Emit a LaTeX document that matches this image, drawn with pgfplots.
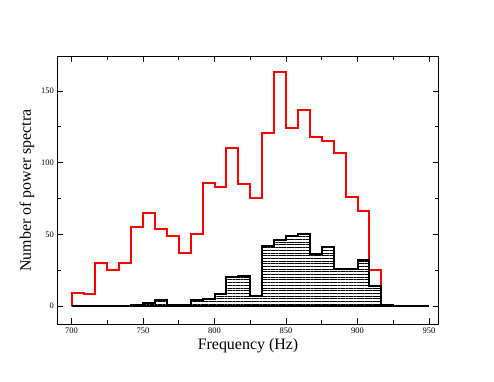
\documentclass[border=0pt]{standalone}
\usepackage{pgfplots}
\pgfplotsset{compat=1.18}
\usetikzlibrary{patterns.meta}
\usepackage{fontspec}
\setmainfont{Liberation Serif}

\begin{document}
\begin{tikzpicture}
  \path[use as bounding box] (-57.3bp,-58bp) rectangle (436.7bp,324bp);
  \begin{axis}[
      at={(0,0)}, anchor=south west,
      scale only axis,
      width=381.4bp, height=267bp,
      xmin=690, xmax=956.8,
      ymin=-12.6, ymax=173.7,
      xtick={700,750,...,950},
      ytick={0,50,100,150},
      minor x tick num=1,
      minor y tick num=1,
      tick align=inside,
      major tick length=5.5bp,
      minor tick length=3.5bp,
      axis line style={line width=1bp},
      every tick/.style={line width=0.8bp, black},
      /pgf/number format/assume math mode=true,
      /pgf/number format/1000 sep={},
      tick label style={font=\fontsize{8.5}{10}\selectfont},
      label style={font=\fontsize{16}{19}\selectfont},
      xlabel={Frequency (Hz)},
      ylabel={Number of power spectra},
      xlabel style={at={(axis description cs:0.5,-0.0824)}, anchor=center},
      ylabel style={at={(axis description cs:-0.0794,0.5)}, anchor=center},
  ]
  % all spectra
  \addplot[const plot mark left, red, line width=2bp]
      coordinates {
          (700, 0)
          (700, 9)
          (708.333, 8)
          (716.667, 30)
          (725, 25)
          (733.333, 30)
          (741.667, 55)
          (750, 65)
          (758.333, 54)
          (766.667, 49)
          (775, 37)
          (783.333, 50)
          (791.667, 86)
          (800, 83)
          (808.333, 110)
          (816.667, 85)
          (825, 75)
          (833.333, 121)
          (841.667, 163)
          (850, 124)
          (858.333, 137)
          (866.667, 118)
          (875, 115)
          (883.333, 107)
          (891.667, 76)
          (900, 66)
          (908.333, 25)
          (916.667, 0)
          (950, 0)
      };

  % selected spectra (hatched)
  \addplot[const plot mark left, black, line width=2bp,
      pattern={Lines[angle=0, distance=2.7pt, line width=0.7pt]}]
      coordinates {
          (700, 0)
          (741.667, 1)
          (750, 2)
          (758.333, 4)
          (766.667, 1)
          (775, 1)
          (783.333, 4)
          (791.667, 5)
          (800, 8)
          (808.333, 20)
          (816.667, 21)
          (825, 7)
          (833.333, 42)
          (841.667, 46)
          (850, 49)
          (858.333, 50)
          (866.667, 36)
          (875, 41)
          (883.333, 26)
          (891.667, 26)
          (900, 32)
          (908.333, 14)
          (916.667, 1)
          (925, 0)
          (950, 0)
      } \closedcycle;

  \end{axis}
\end{tikzpicture}
\end{document}
